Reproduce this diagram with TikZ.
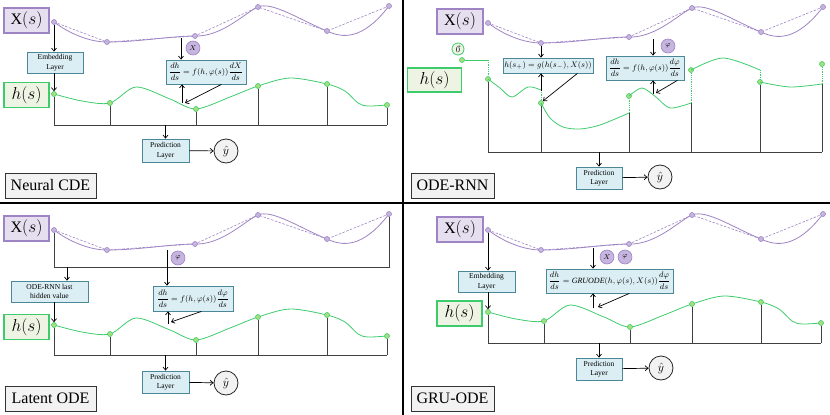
\documentclass[tikz,border=0pt]{standalone}
\usepackage{fontspec}
\setmainfont{Liberation Serif}
\usetikzlibrary{arrows.meta,calc}
\definecolor{xpurple}{HTML}{9E84C4}
\definecolor{xpurplefill}{HTML}{E6DFF0}
\definecolor{xdotfill}{HTML}{C6B5DF}
\definecolor{hgreen}{HTML}{3DCB6C}
\definecolor{hgreenfill}{HTML}{EEF4E4}
\definecolor{hdotfill}{HTML}{A6E07E}
\definecolor{layerfill}{HTML}{DBEEF4}
\definecolor{layerline}{HTML}{4A8797}
\definecolor{namefill}{HTML}{F2F2F2}
\definecolor{tickgray}{HTML}{404040}
\newcommand{\curvew}{0.8pt}
\newcommand{\base}{125}
\tikzset{
  arr/.style={-{Straight Barb[length=3pt,width=5pt]}, line width=0.7pt, black},
  xline/.style={xpurple, line width=\curvew},
  xdash/.style={xpurple, line width=0.6pt, dash pattern=on 2.5pt off 1.5pt},
  xdot/.style={circle, draw=xpurple, fill=xdotfill, line width=0.6pt, minimum size=5pt, inner sep=0pt},
  hline/.style={hgreen, line width=\curvew},
  hjump/.style={hgreen, line width=\curvew, densely dotted},
  hdot/.style={circle, draw=hgreen, fill=hdotfill, line width=0.6pt, minimum size=5pt, inner sep=0pt},
  tick/.style={tickgray, line width=1pt},
  databox/.style={draw, line width=1.2pt, minimum width=45pt, minimum height=25pt, inner sep=0pt, font=\fontsize{16}{16}\selectfont},
  xbox/.style={databox, draw=xpurple, fill=xpurplefill},
  hbox/.style={databox, draw=hgreen, fill=hgreenfill},
  layer/.style={draw=layerline, fill=layerfill, line width=0.8pt, align=center, inner sep=0pt, font=\fontsize{7.5}{9.5}\selectfont},
  eqbox/.style={layer, font=\fontsize{8}{9}\selectfont},
  coef/.style={circle, draw=xpurple, fill=xdotfill, line width=0.6pt, minimum size=14pt, inner sep=0pt, font=\fontsize{7.5}{7.5}\selectfont},
  yhat/.style={circle, draw=black!85, fill=namefill, line width=0.8pt, minimum size=24pt, inner sep=0pt, font=\fontsize{13}{13}\selectfont},
  namebox/.style={draw=black!80, fill=namefill, line width=1pt, minimum height=25pt, inner sep=0pt, font=\fontsize{16}{16}\selectfont},
}
% observed path X(s), drawn in the coordinates of the top left panel
\newcommand{\drawX}{%
\draw[xdash] (54,22) -- (107,42) -- (195,36) -- (258,7) -- (327,31) -- (389,6);
\draw[xline] (54,22) .. controls (70,34) and (90,42) .. (107,42)
  .. controls (140,42) and (170,36) .. (195,36)
  .. controls (222,37) and (246,12) .. (258,7)
  .. controls (272,1) and (300,20) .. (327,31)
  .. controls (342,38) and (362,41) .. (389,6);
\foreach \px/\py [count=\i] in {54/22,107/42,195/36,258/7,327/31,389/6}
  \node[xdot] (x\i) at (\px,\py) {};
}
% hidden state h(s) with its ticks
\newcommand{\drawH}{%
\draw[hline] plot[smooth] coordinates {(54,94) (82,101) (110,103) (136,87) (170,99) (196,109) (230,97) (258,86) (290,78) (327,84) (345,91) (358,103) (368,106) (387,105)};
\foreach \px/\py [count=\i] in {54/94,110/103,196/109,258/86,327/84,387/105}{
  \node[hdot] (h\i) at (\px,\py) {};
  \coordinate (b\i) at (\px,\base);
  \draw[tick] (h\i) -- (b\i);
}
\draw[tick] (b1) -- (b6);
}

\begin{document}
\begin{tikzpicture}[x=1pt,y=-1pt]
\useasboundingbox (0,0) rectangle (830,415);
\draw[line width=1.5pt] (403,0) -- (403,415);
\draw[line width=1.5pt] (0,203) -- (830,203);

%Neural CDE
\drawX
\node[xbox] (xs1) at (26.5,20.5) {X$(s)$};
\node[layer, minimum width=56pt, minimum height=21pt] (emb1) at (55,62.5) {Embedding\\Layer};
\drawH
\node[hbox] (hs1) at (26.5,95) {$h(s)$};
\draw[arr] (x1) -- (x1 |- emb1.north);
\draw[arr] (emb1.south -| h1) -- (h1);
\node[eqbox, minimum width=80pt, minimum height=24pt] (eq1) at (206,72) {$\displaystyle\frac{dh}{ds}=f(h,\varphi(s))\frac{dX}{ds}$};
\node[coef] (c1) at (193,48) {$X$};
\coordinate (xa1) at (181,38);
\coordinate (ha1) at (182,103);
\coordinate (hb1) at (185,103);
\draw[arr] (xa1) -- (xa1 |- eq1.north);
\draw[arr] (ha1) -- (ha1 |- eq1.south);
\draw[arr] ([xshift=-25pt]eq1.south east) -- (hb1);
\node[layer, minimum width=47pt, minimum height=23pt] (pred1) at (165.5,150.5) {Prediction\\Layer};
\node[yhat] (y1) at (226,151) {$\hat{y}$};
\draw[arr] (pred1.north |- b1) -- (pred1.north);
\draw[arr] (pred1) -- (y1);
\node[namebox, minimum width=91pt] (n1) at (50.5,185.5) {Neural CDE};

%ODE-RNN
\begin{scope}[shift={(434,1)}]
\drawX
\end{scope}
\node[xbox, minimum width=46pt] (xs2) at (460,21.5) {X$(s)$};
\node[hbox, minimum width=54pt, minimum height=24pt] (hs2) at (434.5,80) {$h(s)$};
\node[circle, draw=hgreen, fill=hgreenfill, line width=0.8pt, minimum size=12pt, inner sep=0pt, font=\fontsize{8}{8}\selectfont] (z2) at (458,49) {$\vec{0}$};
\node[hdot] (g0) at (462,60) {};
\node[hdot] (g1) at (488,79) {};
\node[hdot] (g2) at (541,103) {};
\node[hdot] (g3) at (629,96) {};
\node[hdot] (g4) at (691,70) {};
\node[hdot] (g5) at (760,82) {};
\node[hdot] (g6) at (822,64) {};
\coordinate (j1) at (488,60);
\coordinate (j2) at (541,90);
\coordinate (j3) at (629,113);
\coordinate (j4) at (691,103);
\coordinate (j5) at (760,70);
\coordinate (j6) at (822,84);
\draw[hline] (g0) -- (j1);
\draw[hjump] (j1) -- (g1);
\draw[hline] plot[smooth] coordinates {(488,79) (500,88) (512,97) (528,87) (541,90)};
\draw[hjump] (j2) -- (g2);
\draw[hline] plot[smooth] coordinates {(541,103) (550,118) (563,127) (580,129) (600,125) (629,113)};
\draw[hjump] (j3) -- (g3);
\draw[hline] plot[smooth] coordinates {(629,96) (642,88) (656,97) (670,108) (691,103)};
\draw[hjump] (j4) -- (g4);
\draw[hline] plot[smooth] coordinates {(691,70) (723,58) (760,70)};
\draw[hjump] (j5) -- (g5);
\draw[hline] plot[smooth] coordinates {(760,82) (790,87) (822,84)};
\draw[hjump] (j6) -- (g6);
\foreach \t/\px in {g1/488,g2/541,j3/629,j4/691,g5/760,j6/822}{
  \coordinate (r\px) at (\px,152);
  \draw[tick] (\t) -- (r\px);
}
\draw[tick] (r488) -- (r822);
\node[eqbox, minimum width=90pt, minimum height=15pt] (eqa) at (548,65.5) {$h(s_+)=g(h(s_-),X(s))$};
\draw[arr] (x2) -- (x2 |- eqa.north);
\coordinate (ua) at (541,91);
\coordinate (va) at (543,101);
\draw[arr] (ua) -- (ua |- eqa.south);
\draw[arr] ([xshift=-16pt]eqa.south east) -- (va);
\node[eqbox, minimum width=78pt, minimum height=24pt] (eqb) at (645,68) {$\displaystyle\frac{dh}{ds}=f(h,\varphi(s))\frac{d\varphi}{ds}$};
\node[coef] (c2) at (668,46) {$\varphi$};
\coordinate (xa2) at (653,39);
\coordinate (ha2) at (653,94);
\coordinate (hb2) at (656,93);
\draw[arr] (xa2) -- (xa2 |- eqb.north);
\draw[arr] (ha2) -- (ha2 |- eqb.south);
\draw[arr] ([xshift=-7pt]eqb.south east) -- (hb2);
\node[layer, minimum width=46pt, minimum height=22pt] (pred2) at (599,178) {Prediction\\Layer};
\node[yhat] (y2) at (660,177) {$\hat{y}$};
\draw[arr] (pred2.north |- r488) -- (pred2.north);
\draw[arr] (pred2) -- (y2);
\node[namebox, minimum width=83pt] (n2) at (452.5,185.5) {ODE-RNN};

%Latent ODE
\begin{scope}[shift={(0,208)}]
\drawX
\end{scope}
\node[xbox] (xs3) at (26.5,228.5) {X$(s)$};
\coordinate (k1) at (54,267);
\coordinate (k2) at (389,267);
\coordinate (k3) at (67,267);
\draw[tick] (x1) -- (k1) -- (k2) -- (x6);
\node[layer, minimum width=77pt, minimum height=21pt] (enc3) at (49.5,291.5) {ODE-RNN last\\hidden value};
\draw[arr] (k3) -- (k3 |- enc3.north);
\begin{scope}[shift={(0,231)}]
\renewcommand{\base}{124}
\drawH
\end{scope}
\node[hbox] (hs3) at (26.5,327) {$h(s)$};
\draw[arr] (enc3.south -| h1) -- (h1);
\node[eqbox, minimum width=80pt, minimum height=25pt] (eq3) at (193,298.5) {$\displaystyle\frac{dh}{ds}=f(h,\varphi(s))\frac{d\varphi}{ds}$};
\node[coef] (c3) at (178,258) {$\varphi$};
\coordinate (xa3) at (167,250);
\coordinate (ha3) at (168,324);
\coordinate (hb3) at (171,322);
\draw[arr] (xa3) -- (xa3 |- eq3.north);
\draw[arr] (ha3) -- (ha3 |- eq3.south);
\draw[arr] ([xshift=-32pt]eq3.south east) -- (hb3);
\node[layer, minimum width=47pt, minimum height=22pt] (pred3) at (165.5,382) {Prediction\\Layer};
\node[yhat] (y3) at (226,383) {$\hat{y}$};
\draw[arr] (pred3.north |- b1) -- (pred3.north);
\draw[arr] (pred3) -- (y3);
\node[namebox, minimum width=91pt] (n3) at (50.5,398.5) {Latent ODE};

%GRU-ODE
\begin{scope}[shift={(434,208)}]
\drawX
\end{scope}
\node[xbox, minimum width=46pt] (xs4) at (460,229.5) {X$(s)$};
\node[layer, minimum width=57pt, minimum height=21pt] (emb4) at (486.5,281.5) {Embedding\\Layer};
\begin{scope}[shift={(434,218)}]
\drawH
\end{scope}
\node[hbox] (hs4) at (459.5,313.5) {$h(s)$};
\draw[arr] (x1) -- (x1 |- emb4.north);
\draw[arr] (emb4.south -| h1) -- (h1);
\node[eqbox, minimum width=127pt, minimum height=24pt] (eq4) at (609.5,281) {$\displaystyle\frac{dh}{ds}=\mathit{GRUODE}(h,\varphi(s),X(s))\frac{d\varphi}{ds}$};
\node[coef] (c4a) at (607,257) {$X$};
\node[coef] (c4b) at (625,257) {$\varphi$};
\coordinate (xa4) at (593,248);
\coordinate (ha4) at (593,308);
\coordinate (hb4) at (598,307);
\draw[arr] (xa4) -- (xa4 |- eq4.north);
\draw[arr] (ha4) -- (ha4 |- eq4.south);
\draw[arr] ([xshift=-44pt]eq4.south east) -- (hb4);
\node[layer, minimum width=46pt, minimum height=22pt] (pred4) at (599,369) {Prediction\\Layer};
\node[yhat] (y4) at (661,368) {$\hat{y}$};
\draw[arr] (pred4.north |- b1) -- (pred4.north);
\draw[arr] (pred4) -- (y4);
\node[namebox, minimum width=83pt] (n4) at (452.5,398.5) {GRU-ODE};
\end{tikzpicture}
\end{document}
